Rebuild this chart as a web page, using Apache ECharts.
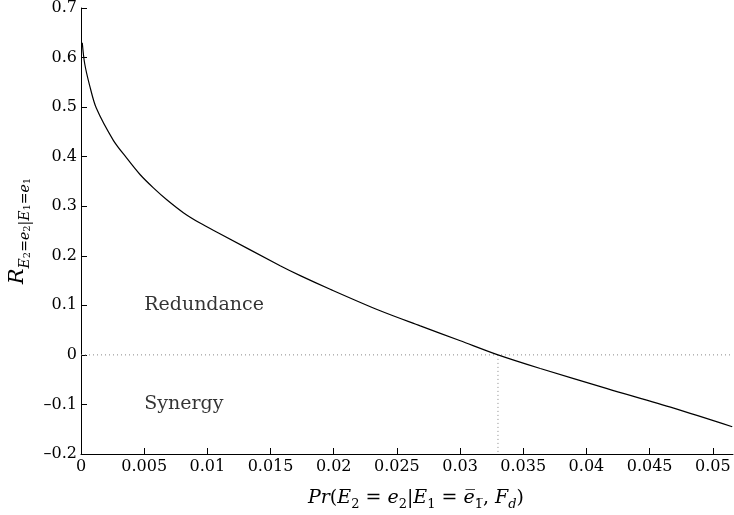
<!DOCTYPE html>
<html>
<head>
<meta charset="utf-8">
<script src="https://cdn.jsdelivr.net/npm/echarts@6/dist/echarts.min.js"></script>
<style>html,body{margin:0;padding:0;background:#fff}#c{width:734px;height:515px}</style>
</head>
<body>
<div id="c"></div>
<script>
// Curve values: x = Pr(...), y = R
var curveX = [0.0001, 0.00029, 0.00069, 0.00121, 0.00256, 0.00362, 0.00467, 0.00573, 0.00679, 0.0081, 0.00942, 0.01088, 0.01576, 0.01735, 0.01972, 0.02368, 0.02685, 0.03002, 0.033, 0.03635, 0.04164, 0.04691, 0.05154];
var curveY = [0.630, 0.588, 0.543, 0.498, 0.433, 0.397, 0.364, 0.337, 0.313, 0.287, 0.266, 0.246, 0.180, 0.160, 0.1325, 0.089, 0.0585, 0.0285, 0.0, -0.0275, -0.068, -0.1075, -0.145];
var xTicks = [0, 0.005, 0.01, 0.015, 0.02, 0.025, 0.03, 0.035, 0.04, 0.045, 0.05];
var xMax = 0.0516;
var yMin = -0.2, yMax = 0.7, yStep = 0.1;
var crossX = 0.033;
var annotText = ['Redundance', 'Synergy'];
var annotX = [0.005, 0.005];
var annotY = [0.1, -0.1];

var SERIF = 'DejaVu Serif';
var curve = curveX.map(function (x, i) { return [x, curveY[i]]; });
var annots = annotText.map(function (t, i) { return { value: [annotX[i], annotY[i]], name: t }; });

var chart = echarts.init(document.getElementById('c'), null, { renderer: 'canvas' });
chart.setOption({
  animation: false,
  backgroundColor: '#fff',
  grid: { left: 81, right: 1, top: 8, bottom: 61, outerBoundsMode: 'none', containLabel: false },
  xAxis: {
    type: 'value', min: 0, max: xMax, interval: 0.005,
    axisLine: { show: true, onZero: false, lineStyle: { color: '#000', width: 1 } },
    axisTick: { show: true, inside: true, length: 6, lineStyle: { color: '#000' }, customValues: xTicks },
    axisLabel: { color: '#000', fontFamily: SERIF, fontSize: 16, margin: 5, customValues: xTicks,
      formatter: function (v) { return String(v); } },
    splitLine: { show: false },
    name: '{i|Pr}{r|(}{i|E}{s|2}{r| = }{i|e}{s|2}{r||}{i|E}{s|1}{r| = }{i|e\u0305}{s|1\u0305}{r|, }{i|F}{si|d}{r|)}',
    nameLocation: 'middle', nameGap: 31,
    nameTextStyle: {
      padding: [0, 0, 0, 18],
      rich: {
        i: { fontFamily: SERIF, fontStyle: 'italic', fontSize: 19, color: '#000', lineHeight: 26 },
        r: { fontFamily: SERIF, fontSize: 19, color: '#000', lineHeight: 26 },
        s: { fontFamily: SERIF, fontSize: 13, color: '#000', lineHeight: 13, verticalAlign: 'bottom' },
        si: { fontFamily: SERIF, fontStyle: 'italic', fontSize: 13, color: '#000', lineHeight: 13, verticalAlign: 'bottom' }
      }
    }
  },
  yAxis: {
    type: 'value', min: yMin, max: yMax, interval: yStep,
    axisLine: { show: true, onZero: false, lineStyle: { color: '#000', width: 1 } },
    axisTick: { show: true, inside: true, length: 6, lineStyle: { color: '#000' } },
    axisLabel: { color: '#000', fontFamily: SERIF, fontSize: 16, margin: 4,
      formatter: function (v) { var s = String(Math.round(v * 10) / 10); return s.replace('-', '\u2013'); } },
    splitLine: { show: false },
    name: '{R|R}{s|E}{ss|2}{sr|=}{s|e}{ss|2}{sr||}{s|E}{ss|1}{sr|=}{s|e}{ss|1}',
    nameLocation: 'middle', nameGap: 46,
    nameTextStyle: {
      rich: {
        R: { fontFamily: SERIF, fontStyle: 'italic', fontSize: 21, color: '#000', lineHeight: 30 },
        s: { fontFamily: SERIF, fontStyle: 'italic', fontSize: 14, color: '#000', lineHeight: 16, verticalAlign: 'bottom' },
        sr: { fontFamily: SERIF, fontSize: 14, color: '#000', lineHeight: 16, verticalAlign: 'bottom' },
        ss: { fontFamily: SERIF, fontSize: 10, color: '#000', lineHeight: 8, verticalAlign: 'bottom' }
      }
    }
  },
  series: [
    {
      type: 'line', data: [[0, 0], [xMax, 0]], symbol: 'none', silent: true,
      lineStyle: { color: '#888', width: 1, type: [1, 3] }
    },
    {
      type: 'line', data: [[crossX, 0], [crossX, yMin]], symbol: 'none', silent: true,
      lineStyle: { color: '#888', width: 1, type: [1, 3] }
    },
    {
      type: 'line', data: curve, symbol: 'none', smooth: 0.3,
      lineStyle: { color: '#000', width: 1.2 }
    },
    {
      type: 'scatter', data: annots, symbolSize: 0, silent: true,
      label: { show: true, position: 'right', distance: 0, formatter: '{b}',
        fontFamily: SERIF, fontSize: 19, color: '#000' }
    }
  ]
});
</script>
</body>
</html>
